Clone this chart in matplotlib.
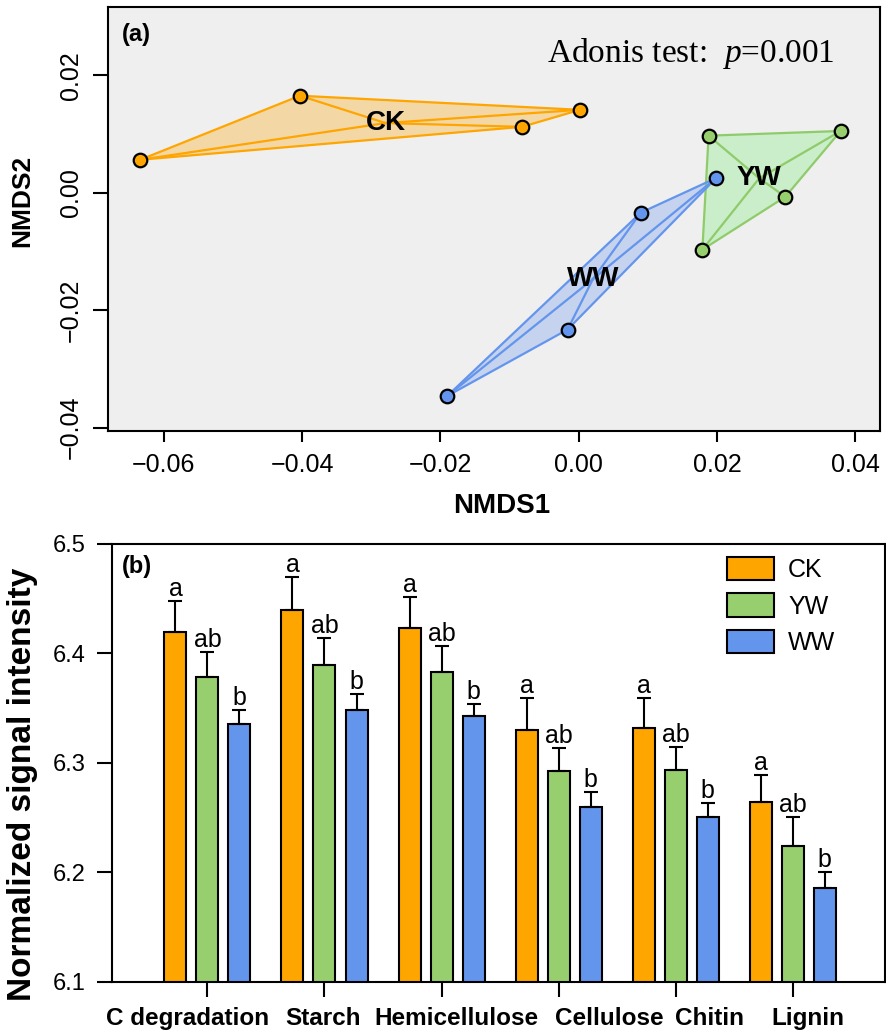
import matplotlib
matplotlib.use('Agg')
import matplotlib.pyplot as plt
from matplotlib.patches import Patch
from matplotlib.ticker import FuncFormatter
import numpy as np

plt.rcParams.update({
    'font.family': ['Liberation Sans', 'DejaVu Sans'],
    'mathtext.fontset': 'custom',
    'mathtext.rm': 'Liberation Serif',
    'mathtext.it': 'Liberation Serif:italic',
    'axes.linewidth': 1.5,
})

W, H = 887, 1034

# ---- panel (a): NMDS site scores ----
groups = ['CK', 'YW', 'WW']
ck_x = [-0.0634, -0.0403, -0.0082, 0.0002]
ck_y = [0.0056, 0.0165, 0.0112, 0.0141]
yw_x = [0.0188, 0.0379, 0.0299, 0.0179]
yw_y = [0.0097, 0.0105, -0.0007, -0.0097]
ww_x = [0.0199, 0.0090, -0.0016, -0.0190]
ww_y = [0.0025, -0.0034, -0.0233, -0.0346]
adonis_p = 0.001

# ---- panel (b): C degradation genes ----
categories = ['C degradation', 'Starch', 'Hemicellulose', 'Cellulose', 'Chitin', 'Lignin']
ck_mean = [6.419, 6.439, 6.423, 6.330, 6.332, 6.264]
yw_mean = [6.378, 6.389, 6.383, 6.292, 6.293, 6.224]
ww_mean = [6.335, 6.348, 6.343, 6.260, 6.250, 6.186]
ck_se = [0.029, 0.031, 0.028, 0.029, 0.027, 0.025]
yw_se = [0.023, 0.025, 0.024, 0.021, 0.021, 0.026]
ww_se = [0.013, 0.015, 0.011, 0.013, 0.013, 0.014]
ck_sig = ['a'] * 6
yw_sig = ['ab'] * 6
ww_sig = ['b'] * 6

colors = {'CK': '#FFA500', 'YW': '#98CF6E', 'WW': '#6495ED'}
fills = {'CK': ('#FFA500', 0.3), 'YW': ('#90EE90', 0.4), 'WW': ('#6495ED', 0.3)}
lines = {'CK': '#FFA500', 'YW': '#8FCB6A', 'WW': '#6495ED'}

# category labels sit slightly off the ticks in the original (pixel centres)
label_px = [188, 323, 456, 609, 710, 808]


def hull(pts):
    pts = sorted(map(tuple, pts))

    def cross(o, a, b):
        return (a[0] - o[0]) * (b[1] - o[1]) - (a[1] - o[1]) * (b[0] - o[0])
    lower, upper = [], []
    for p in pts:
        while len(lower) >= 2 and cross(lower[-2], lower[-1], p) <= 0:
            lower.pop()
        lower.append(p)
    for p in reversed(pts):
        while len(upper) >= 2 and cross(upper[-2], upper[-1], p) <= 0:
            upper.pop()
        upper.append(p)
    return np.array(lower[:-1] + upper[:-1])


def minus_fmt(v, _pos):
    s = f'{v:.2f}'
    if abs(v) < 1e-9:
        s = '0.00'
    return s.replace('-', '\u2212')


fig = plt.figure(figsize=(W / 100, H / 100), dpi=100)

# panel (a)
ax1 = fig.add_axes([108 / W, 1 - 431 / H, (880 - 108) / W, (431 - 7) / H])
ax1.set_facecolor('#EFEFEF')
pts = {'CK': (ck_x, ck_y), 'YW': (yw_x, yw_y), 'WW': (ww_x, ww_y)}
for g in groups:
    x, y = np.array(pts[g][0]), np.array(pts[g][1])
    h = hull(np.column_stack([x, y]))
    fc, al = fills[g]
    ax1.fill(h[:, 0], h[:, 1], color=fc, alpha=al, lw=0, zorder=1)
    hc = np.vstack([h, h[:1]])
    ax1.plot(hc[:, 0], hc[:, 1], color=lines[g], lw=1.6, zorder=2)
    cx, cy = x.mean(), y.mean()
    for xi, yi in zip(x, y):
        ax1.plot([cx, xi], [cy, yi], color=lines[g], lw=1.6, zorder=2)
    ax1.text(cx, cy, g, fontsize=20, fontweight='bold', ha='center', va='center', zorder=5)
for g in groups:
    ax1.scatter(pts[g][0], pts[g][1], s=95, color=colors[g], edgecolor='black',
                linewidth=1.6, zorder=4)

ax1.set_xlim(-0.06806, 0.04359)
ax1.set_ylim(-0.04056, 0.0316)
ax1.set_xticks([-0.06, -0.04, -0.02, 0.00, 0.02, 0.04])
ax1.set_yticks([-0.04, -0.02, 0.00, 0.02])
ax1.xaxis.set_major_formatter(FuncFormatter(minus_fmt))
ax1.yaxis.set_major_formatter(FuncFormatter(minus_fmt))
ax1.tick_params(axis='x', length=8, width=1.5, pad=8, labelsize=18)
ax1.tick_params(axis='y', length=11, width=1.5, pad=7, labelsize=18)
for lab in ax1.get_yticklabels():
    lab.set_rotation(90)
    lab.set_va('center')
ax1.text((122 - 108) / 772, 1 - 28 / 424, '(a)', transform=ax1.transAxes,
         fontsize=17, fontweight='bold', ha='left', va='center')
ax1.text(547, H - 62, f'Adonis test:  $\\mathit{{p}}$={adonis_p:.3f}', transform=None,
         fontsize=24, ha='left', va='baseline', family='Liberation Serif')
fig.text(502 / W, 1 - 506 / H, 'NMDS1', fontsize=20, fontweight='bold', ha='center', va='center')
fig.text(22 / W, 1 - 201 / H, 'NMDS2', fontsize=19, fontweight='bold', ha='center',
         va='center', rotation=90)

# panel (b)
ax2 = fig.add_axes([112 / W, 1 - 981.7 / H, (885 - 112) / W, 438 / H])
xc = np.arange(len(categories))
off, bw = 0.2735, 0.188
series = [('CK', ck_mean, ck_se, ck_sig, -off), ('YW', yw_mean, yw_se, yw_sig, 0.0),
          ('WW', ww_mean, ww_se, ww_sig, off)]
for name, m, se, sig, dx in series:
    xs = xc + dx
    ax2.bar(xs, m, width=bw, color=colors[name], edgecolor='black', linewidth=1.5, zorder=2)
    ax2.errorbar(xs, m, yerr=[np.zeros(len(m)), se], fmt='none', ecolor='black',
                 elinewidth=1.5, capsize=4.7, capthick=1.5, zorder=3)
    for xi, mi, si, lab in zip(xs, m, se, sig):
        ax2.annotate(lab, (xi, mi + si), xytext=(0, 0), textcoords='offset points',
                     ha='center', va='bottom', fontsize=18)

ax2.set_xlim(-0.816, 5.79)
ax2.set_ylim(6.1, 6.5)
ax2.set_yticks([6.1, 6.2, 6.3, 6.4, 6.5])
ax2.set_xticks(xc)
ax2.set_xticklabels([])
ax2.tick_params(axis='x', length=11, width=1.5)
ax2.tick_params(axis='y', length=11, width=1.5, pad=8, labelsize=17)
for px, cat in zip(label_px, categories):
    fig.text(px / W, 1 - 1025 / H, cat, fontsize=17.5, fontweight='bold',
             ha='center', va='baseline')
ax2.text((122 - 112) / 773, 1 - (567 - 543.7) / 438, '(b)', transform=ax2.transAxes,
         fontsize=17, fontweight='bold', ha='left', va='center')
fig.text(22.5 / W, 1 - 784 / H, 'Normalized signal intensity', fontsize=24,
         fontweight='bold', ha='center', va='center', rotation=90)

handles = [Patch(facecolor=colors[g], edgecolor='black', linewidth=1.5) for g in groups]
ax2.legend(handles, groups, loc='upper left', bbox_to_anchor=(727 / W, 1 - 557 / H),
           bbox_transform=fig.transFigure, frameon=False, fontsize=18, borderpad=0,
           borderaxespad=0, handlelength=1.9, handleheight=1.05, labelspacing=0.45,
           handletextpad=0.55)

fig.savefig('out.png', dpi=100)
